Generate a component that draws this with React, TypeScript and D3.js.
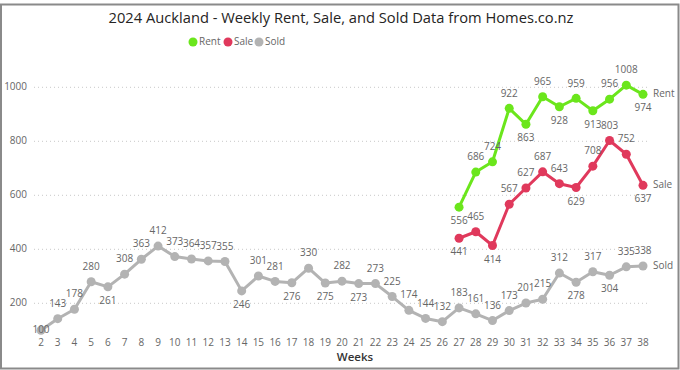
import React from 'react';
import * as d3 from 'd3';

const soldWeeks = d3.range(2, 39);
const soldValues = [100, 143, 178, 280, 261, 308, 363, 412, 373, 364, 357, 355, 246, 301, 281, 276, 330, 275, 282, 273, 273, 225, 174, 144, 132, 183, 161, 136, 173, 201, 215, 312, 278, 317, 304, 335, 338];
const newWeeks = d3.range(27, 39);
const rentValues = [556, 686, 724, 922, 863, 965, 928, 959, 913, 956, 1008, 974];
const saleValues = [441, 465, 414, 567, 627, 687, 643, 629, 708, 803, 752, 637];
const yTicks = [200, 400, 600, 800, 1000];

// weeks whose data label sits below the point (Power BI style placement)
const rentBelow = [27, 31, 33, 35, 38];
const saleBelow = [27, 29, 34, 38];
const soldBelow = [6, 14, 17, 19, 21, 34, 36];
const soldCenter = [2];

const W = 680;
const H = 370;
const font = "'Segoe UI', 'Open Sans', sans-serif";

const x = d3.scaleLinear().domain([2, 38]).range([41, 643]);
const y = d3.scaleLinear().domain([0, 1000]).range([357.3, 87.3]);

type Series = {
  name: string;
  color: string;
  weeks: number[];
  values: number[];
  below: number[];
  center: number[];
};

const series: Series[] = [
  { name: 'Rent', color: '#6BE61C', weeks: newWeeks, values: rentValues, below: rentBelow, center: [] },
  { name: 'Sale', color: '#E0395C', weeks: newWeeks, values: saleValues, below: saleBelow, center: [] },
  { name: 'Sold', color: '#B3B3B3', weeks: soldWeeks, values: soldValues, below: soldBelow, center: soldCenter },
];

const line = d3.line<[number, number]>()
  .x(d => x(d[0]))
  .y(d => y(d[1]));

const App: React.FC = () => {
  const legendX = [193, 228, 259];
  return (
    <svg width={W} height={H} style={{ position: 'absolute', left: 0, top: 0 }} fontFamily={font}>
      <rect x={1} y={4.5} width={677.5} height={364} fill="#fff" stroke="#8a8a8a" strokeWidth={2} />
      <text x={341} y={23} textAnchor="middle" fontSize={14.7} fill="#252423">
        2024 Auckland - Weekly Rent, Sale, and Sold Data from Homes.co.nz
      </text>
      {series.map((s, i) => (
        <g key={s.name}>
          <circle cx={legendX[i]} cy={42} r={4.5} fill={s.color} />
          <text x={legendX[i] + 6} y={42} dominantBaseline="middle" fontSize={10} fill="#666">{s.name}</text>
        </g>
      ))}
      {yTicks.map(t => (
        <g key={t}>
          <line x1={34} x2={648} y1={y(t)} y2={y(t)} stroke="#c8c8c8" strokeDasharray="1 3" />
          <text x={27} y={y(t)} textAnchor="end" dominantBaseline="middle" fontSize={10} fill="#666">{t}</text>
        </g>
      ))}
      {soldWeeks.map(w => (
        <text key={w} x={x(w)} y={343} textAnchor="middle" dominantBaseline="middle" fontSize={10} fill="#666">{w}</text>
      ))}
      <text x={355} y={358} textAnchor="middle" dominantBaseline="middle" fontSize={11.5} fontWeight={600} fill="#333">Weeks</text>
      {series.map(s => {
        const pts: [number, number][] = s.weeks.map((w, i) => [w, s.values[i]]);
        const last = pts[pts.length - 1];
        return (
          <g key={s.name}>
            <path d={line(pts) ?? ''} fill="none" stroke={s.color} strokeWidth={3} strokeLinejoin="round" />
            {pts.map(p => (
              <circle key={p[0]} cx={x(p[0])} cy={y(p[1])} r={4.5} fill={s.color} />
            ))}
            {pts.map(p => {
              const off = s.center.includes(p[0]) ? 0 : s.below.includes(p[0]) ? 14.5 : -14.5;
              return (
                <text key={p[0]} x={x(p[0])} y={y(p[1]) + off} textAnchor="middle" dominantBaseline="middle" fontSize={10} fill="#666">{p[1]}</text>
              );
            })}
            <text x={x(last[0]) + 10} y={y(last[1])} dominantBaseline="middle" fontSize={10} fill="#666">{s.name}</text>
          </g>
        );
      })}
    </svg>
  );
};

export default App;
